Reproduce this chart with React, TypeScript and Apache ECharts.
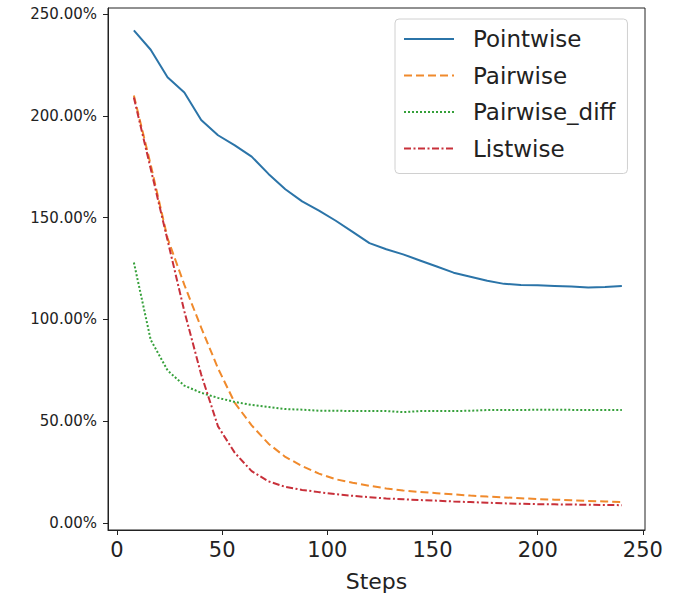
import React, { useEffect, useRef } from "react";
import * as echarts from "echarts";

const steps = [8, 16, 24, 32, 40, 48, 56, 64, 72, 80, 88, 96, 104, 112, 120, 128, 136, 144, 152, 160, 168, 176, 184, 192, 200, 208, 216, 224, 232, 240];
const pointwise = [242, 232.5, 219, 211.5, 198, 190.5, 185.5, 180, 171.5, 164, 158, 153.5, 148.5, 143, 137.5, 134.5, 132, 129, 126, 123, 121, 119, 117.5, 117, 116.8, 116.5, 116.2, 115.7, 115.9, 116.4];
const pairwise = [210, 176, 140, 117, 96, 76, 59, 48, 39, 32.5, 28, 24.3, 21.5, 19.8, 18.3, 17, 16, 15.3, 14.7, 14.1, 13.5, 13, 12.6, 12.2, 11.8, 11.5, 11.2, 10.9, 10.6, 10.3];
const pairwiseDiff = [128, 90, 75, 67.5, 64, 61.5, 59.5, 58, 57, 56, 55.7, 55.2, 55.2, 55, 55, 55, 54.5, 55, 55, 55, 55.2, 55.5, 55.5, 55.5, 55.7, 55.7, 55.6, 55.6, 55.6, 55.6];
const listwise = [209, 174, 139, 104, 73, 47.5, 34.5, 25.5, 20.5, 17.8, 16.3, 15.2, 14.2, 13.4, 12.7, 12.1, 11.7, 11.3, 11, 10.6, 10.3, 10, 9.7, 9.5, 9.3, 9.2, 9.1, 9, 8.9, 8.8];
const seriesNames = ["Pointwise", "Pairwise", "Pairwise_diff", "Listwise"];
const xTicks = [0, 50, 100, 150, 200, 250];
const yTicks = [0, 50, 100, 150, 200, 250];

const FONT = "DejaVu Sans";

export default function App() {
  const ref = useRef<HTMLDivElement>(null);
  useEffect(() => {
    document.body.style.margin = "0";
    const chart = echarts.init(ref.current!, null, { renderer: "svg" });
    const mk = (name: string, data: number[], color: string, type: any) => ({
      name,
      type: "line",
      data: steps.map((s, i) => [s, data[i]]),
      symbol: "none",
      lineStyle: { color, width: 2, type },
      itemStyle: { color },
    });
    chart.setOption({
      animation: false,
      backgroundColor: "#fff",
      grid: { left: 108, right: 37, top: 8, bottom: 68, show: true, borderColor: "#222", borderWidth: 1, backgroundColor: "transparent" },
      xAxis: {
        type: "value",
        min: -4.3,
        max: 251,
        name: "Steps",
        nameLocation: "middle",
        nameGap: 40,
        nameTextStyle: { fontFamily: FONT, fontSize: 22, color: "#222" },
        axisLine: { show: true, onZero: false, lineStyle: { color: "#222", width: 1 } },
        axisTick: { show: true, length: 5, customValues: xTicks, lineStyle: { color: "#222" } },
        axisLabel: { customValues: xTicks, fontFamily: FONT, fontSize: 21, color: "#222", margin: 9 },
        splitLine: { show: false },
      },
      yAxis: {
        type: "value",
        min: -3.4,
        max: 253,
        axisLine: { show: true, onZero: false, lineStyle: { color: "#222", width: 1 } },
        axisTick: { show: true, length: 5, customValues: yTicks, lineStyle: { color: "#222" } },
        axisLabel: {
          customValues: yTicks,
          fontFamily: FONT,
          fontSize: 15,
          color: "#222",
          margin: 11,
          formatter: (v: number) => v.toFixed(2) + "%",
        },
        splitLine: { show: false },
      },
      legend: {
        data: seriesNames,
        orient: "vertical",
        left: 395,
        top: 19,
        padding: [7, 12, 12, 8],
        itemGap: 10.5,
        itemWidth: 50,
        itemHeight: 14,
        borderColor: "#d0d0d0",
        borderWidth: 1,
        borderRadius: 4,
        backgroundColor: "rgba(255,255,255,0.8)",
        itemStyle: { opacity: 0 },
        textStyle: { fontFamily: FONT, fontSize: 23, color: "#222", lineHeight: 26, padding: [0, 0, 0, 14] },
      },
      series: [
        mk("Pointwise", pointwise, "#2b74a8", "solid"),
        mk("Pairwise", pairwise, "#f08a2c", [8, 4]),
        mk("Pairwise_diff", pairwiseDiff, "#35a03a", [2, 2]),
        mk("Listwise", listwise, "#c8303a", [7, 2.5, 2, 2.5]),
      ],
    });
    return () => chart.dispose();
  }, []);
  return <div ref={ref} style={{ width: 682, height: 598 }} />;
}
